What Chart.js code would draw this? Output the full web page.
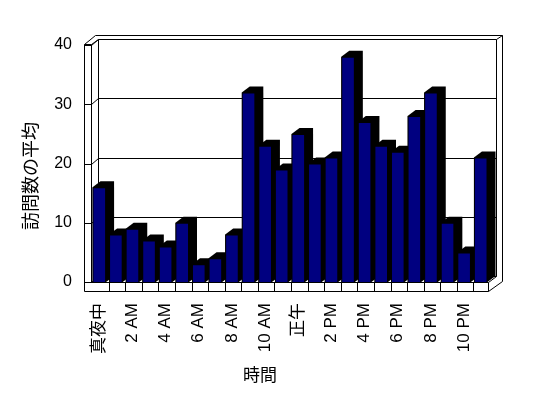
<!DOCTYPE html>
<html>
<head>
<meta charset="utf-8">
<script src="https://cdn.jsdelivr.net/npm/chart.js@4"></script>
<style>
  html, body { margin: 0; padding: 0; background: #fff; }
  #wrap { width: 548px; height: 398px; position: relative; }
</style>
</head>
<body>
<div id="wrap"><canvas id="chart"></canvas></div>
<script>
// hours of the day, shown every second one
var hours = ['真夜中', '1 AM', '2 AM', '3 AM', '4 AM', '5 AM', '6 AM', '7 AM', '8 AM', '9 AM', '10 AM', '11 AM',
   '正午', '1 PM', '2 PM', '3 PM', '4 PM', '5 PM', '6 PM', '7 PM', '8 PM', '9 PM', '10 PM', '11 PM'];
var visits = [16, 8, 9, 7, 6, 10, 3, 4, 8, 32, 23, 19, 25, 20, 21, 38, 27, 23, 22, 28, 32, 10, 5, 21];
var yTicks = [0, 10, 20, 30, 40];
var yTitle = '訪問数の平均';
var xTitle = '時間';

var WALL_DX = 7, WALL_DY = 6;   // depth of the walls
var BAR_DX = 8, BAR_DY = 6;     // depth of each bar

function line(ctx, pts) {
   ctx.beginPath();
   ctx.moveTo(pts[0][0] + 0.5, pts[0][1] + 0.5);
   for (var i = 1; i < pts.length; i++) ctx.lineTo(pts[i][0] + 0.5, pts[i][1] + 0.5);
   ctx.stroke();
}

var box3d = {
   id: 'box3d',
   beforeDatasetsDraw: function(chart) {
      var ctx = chart.ctx, a = chart.chartArea, ys = chart.scales.y, xs = chart.scales.x;
      var L = Math.round(a.left), R = Math.round(a.right), T = Math.round(a.top), B = Math.round(a.bottom);
      ctx.save();
      ctx.strokeStyle = '#000';
      ctx.lineWidth = 1;

      // back wall
      var bl = L + WALL_DX, br = R + WALL_DX;
      for (var v of yTicks) {
         var y = Math.round(ys.getPixelForValue(v)) - WALL_DY;
         line(ctx, [[bl, y], [br, y]]);
         // gridline on the left wall
         var yf = Math.round(ys.getPixelForValue(v));
         line(ctx, [[L - WALL_DX, yf], [L, yf], [bl, y]]);
      }
      line(ctx, [[br, T - WALL_DY], [br, B - WALL_DY]]);
      line(ctx, [[bl, T - WALL_DY], [bl, B - WALL_DY]]);
      // outer edge of the back wall
      line(ctx, [[bl - 3, T - WALL_DY - 4], [br + 6, T - WALL_DY - 4], [br + 6, B - 1]]);
      line(ctx, [[br, T - WALL_DY], [br + 6, T - WALL_DY - 4]]);

      // left wall
      line(ctx, [[L - WALL_DX, T - 1], [L - WALL_DX, B + 9]]);
      line(ctx, [[L, T - 1], [L, B]]);
      line(ctx, [[L - WALL_DX, T - 1], [L, T - 1], [bl, T - WALL_DY]]);
      line(ctx, [[L - WALL_DX, T - 1], [bl - 3, T - WALL_DY - 4]]);

      // floor
      ctx.fillStyle = '#fff';
      line(ctx, [[L - WALL_DX, B], [R - 1, B], [R - 1, B + 9], [L - WALL_DX, B + 9]]);
      for (var i = 0; i < hours.length - 1; i++) {
         var xb = Math.round((xs.getPixelForValue(i) + xs.getPixelForValue(i + 1)) / 2) + 1;
         line(ctx, [[xb, B], [xb, B + 9]]);
      }
      line(ctx, [[R - 1, B + 9], [br + 6, B - 1]]);
      line(ctx, [[R - 1, B], [br, B - WALL_DY]]);

      // dark sides and tops of the bars
      ctx.fillStyle = '#000';
      var meta = chart.getDatasetMeta(0);
      meta.data.forEach(function(bar) {
         var x0 = bar.x - bar.width / 2, x1 = bar.x + bar.width / 2;
         var yt = bar.y, yb = bar.base;
         ctx.beginPath();
         ctx.moveTo(x0, yt);
         ctx.lineTo(x0 + BAR_DX, yt - BAR_DY);
         ctx.lineTo(x1 + BAR_DX, yt - BAR_DY);
         ctx.lineTo(x1 + BAR_DX, yb - BAR_DY);
         ctx.lineTo(x1, yb);
         ctx.lineTo(x0, yb);
         ctx.closePath();
         ctx.fill();
      });
      ctx.restore();
   },
   afterDraw: function(chart) {
      var ctx = chart.ctx;
      ctx.save();
      ctx.fillStyle = '#000';
      ctx.textAlign = 'center';
      ctx.textBaseline = 'middle';
      ctx.font = '17px "Noto Sans CJK JP"';
      ctx.fillText(xTitle, 260, 375);
      ctx.translate(30, 176);
      ctx.rotate(-Math.PI / 2);
      ctx.font = '18px "Noto Sans CJK JP"';
      ctx.fillText(yTitle, 0, 0);
      ctx.restore();
   }
};

var ctx = document.getElementById('chart').getContext('2d');
var chart = new Chart(ctx, {
   type: 'bar',
   data: {
      labels: hours,
      datasets: [{
         label: yTitle,
         data: visits,
         backgroundColor: '#000080',
         borderColor: '#000',
         borderWidth: 1,
         barPercentage: 0.82,
         categoryPercentage: 1
      }]
   },
   options: {
      responsive: true,
      maintainAspectRatio: false,
      animation: false,
      layout: { padding: { top: 45, right: 59, left: 0, bottom: 0 } },
      plugins: {
         legend: { display: false },
         tooltip: { enabled: false }
      },
      scales: {
         x: {
            grid: { display: false, drawTicks: false },
            border: { display: false },
            afterFit: function(scale) { scale.height = 116; },
            ticks: {
               autoSkip: false,
               maxRotation: 90,
               minRotation: 90,
               padding: 21,
               color: '#000',
               font: { size: 17, family: '"Liberation Sans", "Noto Sans CJK JP"' },
               callback: function(val, i) { return i % 2 === 0 ? hours[i] : ''; }
            }
         },
         y: {
            min: 0,
            max: 40,
            grid: { display: false, drawTicks: false },
            border: { display: false },
            afterFit: function(scale) { scale.width = 91; },
            ticks: {
               stepSize: 10,
               padding: 19,
               color: '#000',
               font: { size: 16, family: '"Liberation Sans"' }
            }
         }
      }
   },
   plugins: [box3d]
});
</script>
</body>
</html>
